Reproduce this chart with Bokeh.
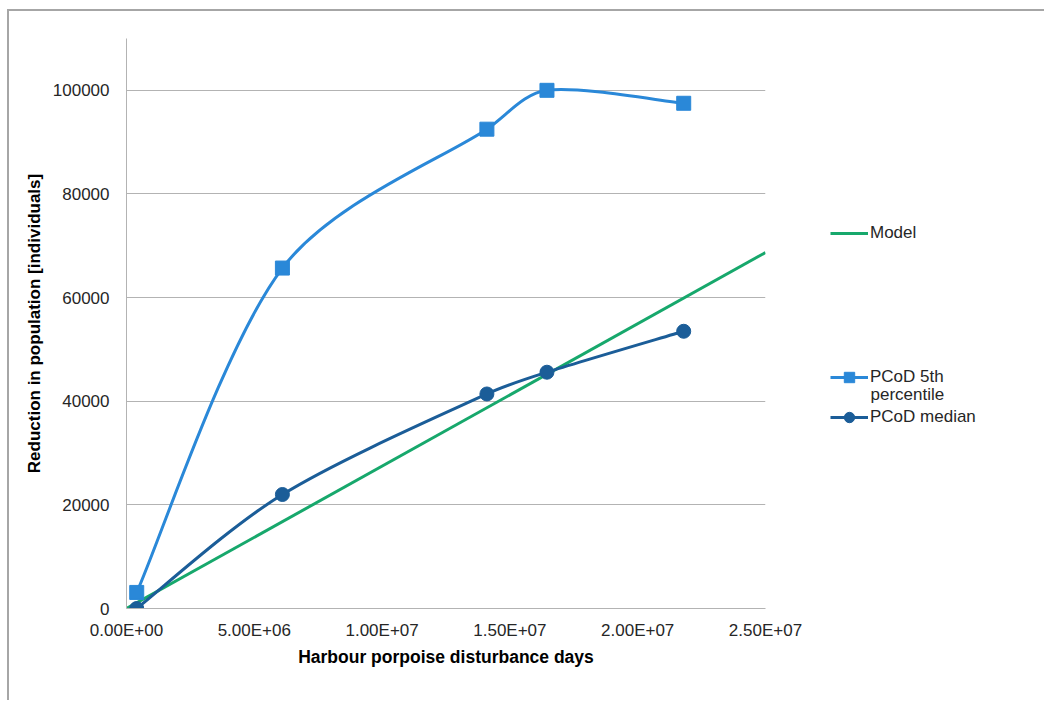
import math
from bokeh.plotting import figure
from bokeh.layouts import row
from bokeh.models import Range1d, FixedTicker, Legend, LegendItem, ColumnDataSource, Label
from bokeh.embed import file_html
from bokeh.resources import INLINE

# ---- data ----
days = [4.0e5, 6.1e6, 1.41e7, 1.645e7, 2.18e7]
pcod_5th = [3100, 65700, 92500, 100000, 97500]
pcod_median = [0, 22000, 41400, 45600, 53500]
model_x = [0, 2.5e7]
model_y = [0, 68700]
x_ticks = [0, 5e6, 1e7, 1.5e7, 2e7, 2.5e7]
y_ticks = [0, 20000, 40000, 60000, 80000, 100000]

X_MAX, Y_MAX = 2.5e7, 110000

FONT = "Liberation Sans"
GREEN = "#17a86c"
LIGHT = "#2a88d8"
DARK = "#1b5d98"
GRAY = "#b3b3b3"
TXT = "#262626"

H = 689
FRAME_L, FRAME_T, FRAME_W, FRAME_H = 117, 27, 639, 570
W1 = 806
W2 = 1035 - W1
NAN = float("nan")


def smooth_segments(xs, ys):
    """Excel-like smoothed line: Catmull-Rom tangents (capped) as cubic Bezier segments."""
    sx = FRAME_W / X_MAX  # normalise units so both axes are comparable
    sy = FRAME_H / Y_MAX
    n = len(xs)
    tang = []
    for i in range(n):
        a = max(i - 1, 0)
        b = min(i + 1, n - 1)
        tang.append(((xs[b] - xs[a]) * sx / 6.0, (ys[b] - ys[a]) * sy / 6.0))
    d = dict(x0=[], y0=[], x1=[], y1=[], cx0=[], cy0=[], cx1=[], cy1=[])
    for i in range(n - 1):
        seg = math.hypot((xs[i + 1] - xs[i]) * sx, (ys[i + 1] - ys[i]) * sy)
        cap = seg / 3.0

        def capped(v):
            L = math.hypot(*v)
            f = 1.0 if L <= cap or L == 0 else cap / L
            return v[0] * f, v[1] * f

        t0 = capped(tang[i])
        t1 = capped(tang[i + 1])
        d["x0"].append(xs[i]); d["y0"].append(ys[i])
        d["x1"].append(xs[i + 1]); d["y1"].append(ys[i + 1])
        d["cx0"].append(xs[i] + t0[0] / sx)
        d["cy0"].append(ys[i] + t0[1] / sy)
        d["cx1"].append(xs[i + 1] - t1[0] / sx)
        d["cy1"].append(ys[i + 1] - t1[1] / sy)
    return ColumnDataSource(d)


p = figure(width=W1, height=H, output_backend="svg", toolbar_location=None,
           x_range=Range1d(0, X_MAX), y_range=Range1d(0, Y_MAX),
           min_border_left=FRAME_L, min_border_right=W1 - FRAME_L - FRAME_W,
           min_border_top=FRAME_T, min_border_bottom=H - FRAME_T - FRAME_H)
p.outline_line_color = None
p.background_fill_color = "white"
p.border_fill_color = "white"

# axes
p.xaxis.ticker = FixedTicker(ticks=x_ticks)
p.xaxis.major_label_overrides = {t: f"{t:.2E}" for t in x_ticks}
p.yaxis.ticker = FixedTicker(ticks=y_ticks)
p.yaxis.major_label_overrides = {t: str(int(t)) for t in y_ticks}
for ax in (p.xaxis[0], p.yaxis[0]):
    ax.axis_line_color = GRAY
    ax.axis_line_width = 1
    ax.major_tick_line_color = None
    ax.minor_tick_line_color = None
    ax.major_tick_out = 0
    ax.major_tick_in = 0
    ax.minor_tick_out = 0
    ax.major_label_text_font = FONT
    ax.major_label_text_font_size = "17px"
    ax.major_label_text_color = TXT
    ax.axis_label_text_font = FONT
    ax.axis_label_text_font_style = "bold"
    ax.axis_label_text_color = "#000000"
p.xaxis.axis_label_text_font_size = "17.5px"
p.yaxis.axis_label_text_font_size = "17px"
p.xaxis.axis_label = "Harbour porpoise disturbance days"
p.yaxis.axis_label = "Reduction in population [individuals]"
p.xaxis.major_label_standoff = 12
p.xaxis.axis_label_standoff = 4
p.yaxis.major_label_standoff = 17
p.yaxis.axis_label_standoff = 6

p.xgrid.grid_line_color = None
p.ygrid.grid_line_color = GRAY
p.ygrid.grid_line_width = 1
p.ygrid.ticker = FixedTicker(ticks=y_ticks)

# series
p.line(model_x, model_y, line_color=GREEN, line_width=3)
p.bezier(x0="x0", y0="y0", x1="x1", y1="y1", cx0="cx0", cy0="cy0", cx1="cx1", cy1="cy1",
         source=smooth_segments(days, pcod_5th), line_color=LIGHT, line_width=3)
p.scatter(days, pcod_5th, marker="square", size=14, fill_color=LIGHT, line_color=LIGHT)
p.bezier(x0="x0", y0="y0", x1="x1", y1="y1", cx0="cx0", cy0="cy0", cx1="cx1", cy1="cy1",
         source=smooth_segments(days, pcod_median), line_color=DARK, line_width=3)
p.scatter(days, pcod_median, marker="circle", size=14, fill_color=DARK, line_color=DARK)

# ---- legend panel (separate figure on the right; its frame is aligned with p's frame) ----
q = figure(width=W2, height=H, output_backend="svg", toolbar_location=None,
           x_range=Range1d(0, W2), y_range=Range1d(0, FRAME_H),
           x_axis_type=None, y_axis_type=None, min_border=0)
q.outline_line_color = None
q.grid.grid_line_color = None
q.background_fill_color = "white"
q.border_fill_color = "white"

# swatch-only renderers (a single NaN point: nothing is drawn in the panel itself)
model_sw = q.line(x=[NAN], y=[NAN], line_color=GREEN, line_width=3)
p5_line = q.line(x=[NAN], y=[NAN], line_color=LIGHT, line_width=3)
p5_mk = q.scatter(x=[NAN], y=[NAN], marker="square", size=10, fill_color=LIGHT, line_color=LIGHT)
med_line = q.line(x=[NAN], y=[NAN], line_color=DARK, line_width=3)
med_mk = q.scatter(x=[NAN], y=[NAN], marker="circle", size=10, fill_color=DARK, line_color=DARK)


def add_legend(label, renderers, loc):
    lg = Legend(items=[LegendItem(label=label, renderers=renderers)], location=loc,
                border_line_color=None, background_fill_alpha=0, padding=0, margin=0,
                spacing=0, glyph_width=38, glyph_height=26, label_standoff=2,
                label_text_font=FONT, label_text_font_size="17px",
                label_text_color=TXT, label_height=26)
    q.add_layout(lg, "center")


add_legend("Model", [model_sw], (15, 362))
add_legend("PCoD 5th", [p5_line, p5_mk], (15, 218))
add_legend("PCoD median", [med_line, med_mk], (15, 178))
# second line of the "PCoD 5th percentile" legend entry
q.add_layout(Label(x=55, y=214, text="percentile", text_baseline="middle", text_align="left",
                   text_font=FONT, text_font_size="17px", text_color=TXT))

layout = row(p, q, margin=(9, 0, 0, 7),
             styles={"border-top": "2px solid #a6a6a6", "border-left": "2px solid #a6a6a6"})

open("out.html", "w").write(file_html(layout, INLINE))
